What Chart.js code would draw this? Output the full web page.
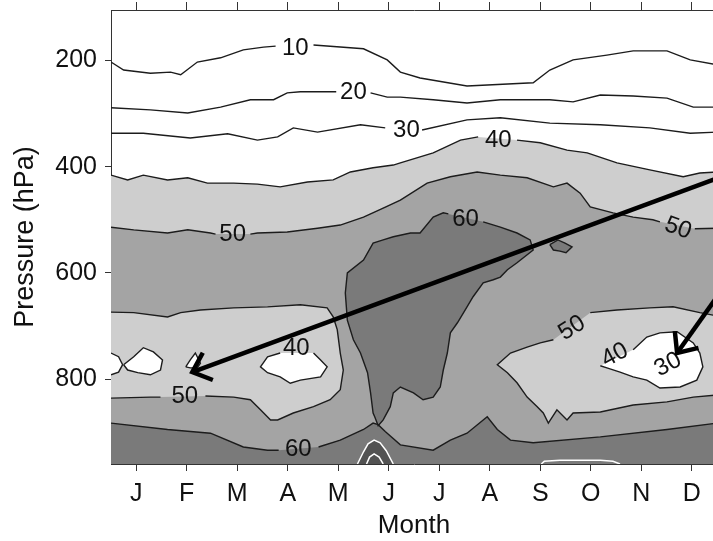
<!DOCTYPE html>
<html>
<head>
<meta charset="utf-8">
<script src="https://cdn.jsdelivr.net/npm/chart.js@4.4.0/dist/chart.umd.min.js"></script>
<style>
  html, body { margin: 0; padding: 0; background: #fff; overflow: hidden; }
  canvas { display: block; }
</style>
</head>
<body>
<canvas id="humidityChart" width="720" height="541"></canvas>
<script>
// axes
const months = ['J', 'F', 'M', 'A', 'M', 'J', 'J', 'A', 'S', 'O', 'N', 'D'];
const monthTicks = [0.5, 1.5, 2.5, 3.5, 4.5, 5.5, 6.5, 7.5, 8.5, 9.5, 10.5, 11.5];
const pressureTicks = [200, 400, 600, 800];

// contour lines in the dry upper part (month, hPa); null = gap for a label
const c10Month = [0, 0.25, 0.78, 1.18, 1.38, 1.71, 2.17, 2.62, 3.02, 3.26, null, 4.01, 5.0, 5.47, 5.73, 6.12, 7.05, 8.36, 8.69, 9.15, 9.82, 10.34, 11.01, 11.47, 12];
const c10Pres = [203, 218, 224, 222, 227, 203, 195, 180, 175, 173, null, 171, 178, 199, 222, 233, 248, 242, 218, 199, 190, 182, 182, 199, 208];
const c20Month = [0, 0.78, 1.52, 2.17, 2.76, 3.22, 3.49, 3.75, 4.40, 4.46, null, 5.14, 5.47, 5.73, 6.38, 7.05, 7.71, 8.69, 9.15, 9.69, 10.34, 11.01, 11.53, 12];
const c20Pres = [289, 293, 299, 288, 274, 274, 261, 259, 259, 259, null, 261, 269, 269, 274, 280, 274, 274, 278, 265, 267, 271, 288, 288];
const c30Month = [0, 0.64, 1.57, 2.31, 2.90, 3.30, 3.61, 4.09, 4.94, 5.43, null, 6.16, 7.05, 7.71, 8.69, 9.69, 10.67, 11.47, 12];
const c30Pres = [337, 337, 346, 338, 350, 344, 327, 335, 321, 327, null, 331, 312, 308, 318, 321, 327, 337, 335];

// 40 contour (top of the light band)
const c40Month = [0, 0.33, 0.64, 1.12, 1.52, 1.91, 2.43, 2.90, 3.35, 3.89, 4.40, 4.74, 5.19, 5.59, 5.73, 6.38, 6.92, 7.27, null, 8.04, 8.50, 9.03, 9.43, 10.02, 10.67, 11.33, 11.66, 12];
const c40Pres = [416, 425, 416, 425, 421, 431, 431, 433, 438, 429, 425, 410, 402, 397, 393, 374, 350, 344, null, 350, 355, 369, 374, 393, 406, 419, 412, 410];

// 50 contour (top of the medium band)
const c50Month = [0, 0.45, 1.12, 1.52, 1.97, 2.07, null, 2.76, 2.90, 3.49, 4.09, 4.54, 5.0, 5.39, 5.73, 6.26, 6.72, 7.25, 7.71, 8.24, 8.76, 9.03, 9.29, 9.49, 9.94, 10.34, 10.73, 10.87, null, 11.56, 12];
const c50Pres = [514, 519, 525, 519, 525, 527, null, 527, 525, 523, 516, 510, 495, 478, 463, 431, 419, 410, 416, 421, 438, 431, 450, 476, 487, 495, 500, 504, null, 517, 516];

// 60 contour: summer blob, small blob, near-surface band
const blobMonth = [7.37, 7.71, 8.04, 8.30, 8.36, 8.04, 7.85, 7.71, 7.57, 7.37, 7.17, 7.05, 6.86, 6.72, 6.66, 6.58, 6.52, 6.38, 6.18, 5.99, 5.73, 5.59, 5.53, 5.39, 5.29, 5.23, 5.19, 5.14, 5.08, 4.94, 4.80, 4.68, 4.64, 4.68, 5.0, 5.19, 5.39, 5.59, 5.93, 6.12, 6.38, 6.58, 6.68];
const blobPres = [504, 514, 525, 538, 557, 581, 594, 608, 613, 619, 645, 664, 694, 713, 751, 783, 815, 834, 839, 826, 815, 826, 852, 877, 888, 873, 864, 826, 788, 751, 726, 689, 638, 600, 576, 544, 538, 532, 525, 525, 495, 487, 489];
const smallMonth = [8.69, 8.85, 8.99, 9.13, 9.01, 8.89, 8.76];
const smallPres = [547, 538, 544, 551, 562, 559, 557];
const c60Month = [0, 1.12, 1.97, 2.62, 3.10, 3.32, null, 4.11, 4.54, 5.0, 5.19, 5.29, 5.43, 5.73, 6.38, 6.72, 7.05, 7.45, 7.65, 7.91, 8.36, 9.69, 11.01, 12];
const c60Pres = [883, 895, 902, 928, 934, 934, null, 928, 915, 895, 883, 886, 899, 924, 934, 915, 902, 871, 895, 915, 920, 909, 895, 883];

// 70 contours near the ground (white)
const archMonth = [4.88, 5.0, 5.09, 5.21, 5.33, 5.45, 5.59];
const archPres = [960, 937, 922, 915, 920, 935, 960];
const innerMonth = [5.06, 5.12, 5.21, 5.31, 5.39];
const innerPres = [960, 947, 941, 947, 960];
const arcMonth = [8.52, 8.58, 8.89, 9.69, 9.94, 10.08];
const arcPres = [960, 955, 953, 953, 955, 960];

// 50 contour around the dry low-level pockets
const leftMonth = [0, 0.45, 1.12, 1.38, 1.77, 2.43, 3.10, 3.75, 4.28, 4.40, 4.48, 4.54, 4.60, 4.54, 4.34, 4.01, 3.61, 3.30, 3.16, 2.96, 2.76, 2.43, 1.87, null, 0.98, 0.78, 0];
const leftPres = [674, 675, 683, 675, 670, 666, 664, 660, 666, 683, 707, 751, 783, 820, 839, 852, 864, 877, 877, 858, 839, 834, 832, null, 834, 834, 836];
const rightMonth = [12, 11.66, 11.13, 10.67, 10.02, 9.49, null, 8.76, 8.50, 8.24, 7.91, 7.65, 7.85, 8.04, 8.24, 8.44, 8.56, 8.66, 8.83, 9.03, 9.15, 9.69, 10.34, 11.01, 11.53, 12];
const rightPres = [681, 675, 664, 666, 670, 675, null, 726, 732, 740, 751, 773, 788, 807, 834, 852, 864, 883, 858, 877, 864, 862, 849, 843, 834, 830];

// 40 contour pockets (white)
const wAMonth = [0, 0.15, 0.23, 0.15, 0];
const wAPres = [751, 758, 773, 787, 792];
const wBMonth = [0.25, 0.45, 0.64, 0.84, 1.02, 0.98, 0.78, 0.53, 0.33];
const wBPres = [773, 758, 741, 749, 764, 783, 792, 788, 783];
const wCMonth = [1.48, 1.57, 1.67, 1.77, 1.71, 1.57];
const wCPres = [777, 764, 751, 770, 779, 779];
const wDMonth = [4.01, 4.15, 4.28, 4.15, 3.75, 3.55, 3.35, 3.10, 2.96, 3.10, 3.35];
const wDPres = [751, 764, 777, 796, 802, 808, 796, 788, 777, 758, 751];
const wRMonth = [10.34, 10.61, 10.87, 11.21, 11.53, 11.66, 11.72, 11.60, 11.27, 10.87, 10.61, 10.34, 10.08, 9.82, 9.69];
const wRPres = [745, 721, 713, 711, 732, 751, 777, 802, 815, 817, 802, 796, 787, 779, 775];

// arrows (tail, tip)
const arrow1Month = [12, 1.61];
const arrow1Pres = [422, 787];
const arrow2Month = [12, 11.21];
const arrow2Pres = [645, 751];

// contour labels
const labelText = ['10', '20', '30', '40', '50', '60', '50', '40', '50', '60', '50', '40', '30'];
const labelMonth = [3.65, 4.80, 5.85, 7.67, 2.41, 7.02, 11.23, 3.67, 1.46, 3.71, 9.13, 9.98, 11.03];
const labelPres = [177, 261, 332, 350, 528, 500, 516, 743, 832, 932, 704, 755, 773];
const labelAngle = [0, 0, 0, 0, 0, 0, 20, 0, 0, 0, -32, -28, -28];

const light = 'rgb(206, 206, 206)';
const medium = 'rgb(164, 164, 164)';
const dark = 'rgb(122, 122, 122)';
const darker = 'rgb(82, 82, 82)';
const ink = '#1c1c1c';

function pts(xs, ps) {
    return xs.map((x, i) => ({x: x, y: ps[i]}));
}

function area(xs, ps, color, toBottom) {
    let data = pts(xs, ps).filter(p => p.x !== null);
    if (toBottom) data = data.concat([{x: 12, y: 960}, {x: 0, y: 960}]);
    return {
        data: data, showLine: true, fill: 'shape', backgroundColor: color,
        borderColor: 'rgba(0,0,0,0)', borderWidth: 0, pointRadius: 0, tension: 0
    };
}

function contour(xs, ps, closed, color, width) {
    let data = pts(xs, ps);
    if (closed) data = data.concat([data[0]]);
    return {
        data: data, showLine: true, fill: false, borderColor: color || ink,
        borderWidth: width || 1.4, pointRadius: 0, tension: 0, spanGaps: false
    };
}

function arrow(xs, ps) {
    const ds = contour(xs, ps, false, '#000', 4.5);
    ds.arrow = true;
    return ds;
}

// painter's order, bottom first
const layers = [
    area(c40Month, c40Pres, light, true),
    area(c50Month, c50Pres, medium, true),
    area(blobMonth, blobPres, dark),
    area(smallMonth, smallPres, dark),
    area(c60Month, c60Pres, dark, true),
    area(archMonth, archPres, darker),
    area(leftMonth, leftPres, light),
    area(rightMonth, rightPres, light),
    area(wAMonth, wAPres, '#fff'),
    area(wBMonth, wBPres, '#fff'),
    area(wCMonth, wCPres, '#fff'),
    area(wDMonth, wDPres, '#fff'),
    area(wRMonth, wRPres, '#fff'),
    contour(c10Month, c10Pres),
    contour(c20Month, c20Pres),
    contour(c30Month, c30Pres),
    contour(c40Month, c40Pres),
    contour(c50Month, c50Pres),
    contour(blobMonth, blobPres),
    contour(smallMonth, smallPres, true),
    contour(c60Month, c60Pres),
    contour(archMonth, archPres, false, '#fff', 1.5),
    contour(innerMonth, innerPres, false, '#fff', 1.5),
    contour(arcMonth, arcPres, false, '#fff', 1.5),
    contour(leftMonth, leftPres),
    contour(rightMonth, rightPres),
    contour(wAMonth, wAPres),
    contour(wBMonth, wBPres, true),
    contour(wCMonth, wCPres, true),
    contour(wDMonth, wDPres),
    contour(wRMonth, wRPres),
    arrow(arrow1Month, arrow1Pres),
    arrow(arrow2Month, arrow2Pres)
];

const contourLabels = {
    id: 'contourLabels',
    afterDatasetsDraw(chart) {
        const ctx = chart.ctx;
        const x = chart.scales.x, y = chart.scales.y;
        ctx.save();
        ctx.font = '24px "Liberation Sans"';
        ctx.fillStyle = '#111';
        ctx.textAlign = 'center';
        ctx.textBaseline = 'middle';
        for (let i = 0; i < labelText.length; i++) {
            ctx.save();
            ctx.translate(x.getPixelForValue(labelMonth[i]), y.getPixelForValue(labelPres[i]));
            ctx.rotate(labelAngle[i] * Math.PI / 180);
            ctx.fillText(labelText[i], 0, 0);
            ctx.restore();
        }
        ctx.restore();

        // arrow heads
        chart.data.datasets.forEach((ds, i) => {
            if (!ds.arrow) return;
            const p = chart.getDatasetMeta(i).data;
            const tip = p[p.length - 1], prev = p[p.length - 2];
            const ang = Math.atan2(prev.y - tip.y, prev.x - tip.x);
            ctx.save();
            ctx.strokeStyle = '#000';
            ctx.lineWidth = 4.5;
            ctx.beginPath();
            ctx.moveTo(tip.x + 22 * Math.cos(ang - 0.72), tip.y + 22 * Math.sin(ang - 0.72));
            ctx.lineTo(tip.x, tip.y);
            ctx.lineTo(tip.x + 22 * Math.cos(ang + 0.72), tip.y + 22 * Math.sin(ang + 0.72));
            ctx.stroke();
            ctx.restore();
        });
    }
};

Chart.defaults.font.family = '"Liberation Sans"';
Chart.defaults.color = '#111';

new Chart(document.querySelector('#humidityChart'), {
    type: 'scatter',
    data: { datasets: layers.slice().reverse() },
    options: {
        responsive: false,
        animation: false,
        devicePixelRatio: 1,
        layout: { padding: { left: 0, right: 3, top: 0, bottom: 0 } },
        plugins: { legend: { display: false }, tooltip: { enabled: false } },
        scales: {
            x: {
                type: 'linear', position: 'bottom', min: 0, max: 12,
                afterBuildTicks: axis => { axis.ticks = monthTicks.map(v => ({value: v})); },
                afterFit: axis => { axis.height = 77; axis.paddingLeft = 0; axis.paddingRight = 0; },
                ticks: { autoSkip: false, maxRotation: 0, padding: 8, font: {size: 25}, color: '#111',
                    callback: (v, i) => months[i] },
                grid: { drawOnChartArea: false, tickLength: 7, color: '#333' },
                border: { display: true, color: '#333' },
                title: { display: true, text: 'Month', font: {size: 26}, color: '#111', padding: {top: 0, bottom: 0} }
            },
            y: {
                type: 'linear', min: 105, max: 960, reverse: true,
                afterBuildTicks: axis => { axis.ticks = pressureTicks.map(v => ({value: v})); },
                afterFit: axis => { axis.width = 111; axis.paddingTop = 0; axis.paddingBottom = 0; },
                ticks: { padding: 8, font: {size: 25}, color: '#111' },
                grid: { drawOnChartArea: false, tickLength: 6, color: '#333' },
                border: { display: true, color: '#333' },
                title: { display: true, text: 'Pressure (hPa)', font: {size: 27}, color: '#111', padding: {top: 9, bottom: 0} }
            },
            x2: {
                type: 'linear', position: 'top', min: 0, max: 12,
                afterBuildTicks: axis => { axis.ticks = monthTicks.map(v => ({value: v})); },
                afterFit: axis => { axis.height = 10; axis.paddingLeft = 0; axis.paddingRight = 0; },
                ticks: { display: false },
                grid: { drawOnChartArea: false, tickLength: 8, color: '#333' },
                border: { display: true, color: '#333' }
            }
        }
    },
    plugins: [contourLabels]
});
</script>
</body>
</html>
